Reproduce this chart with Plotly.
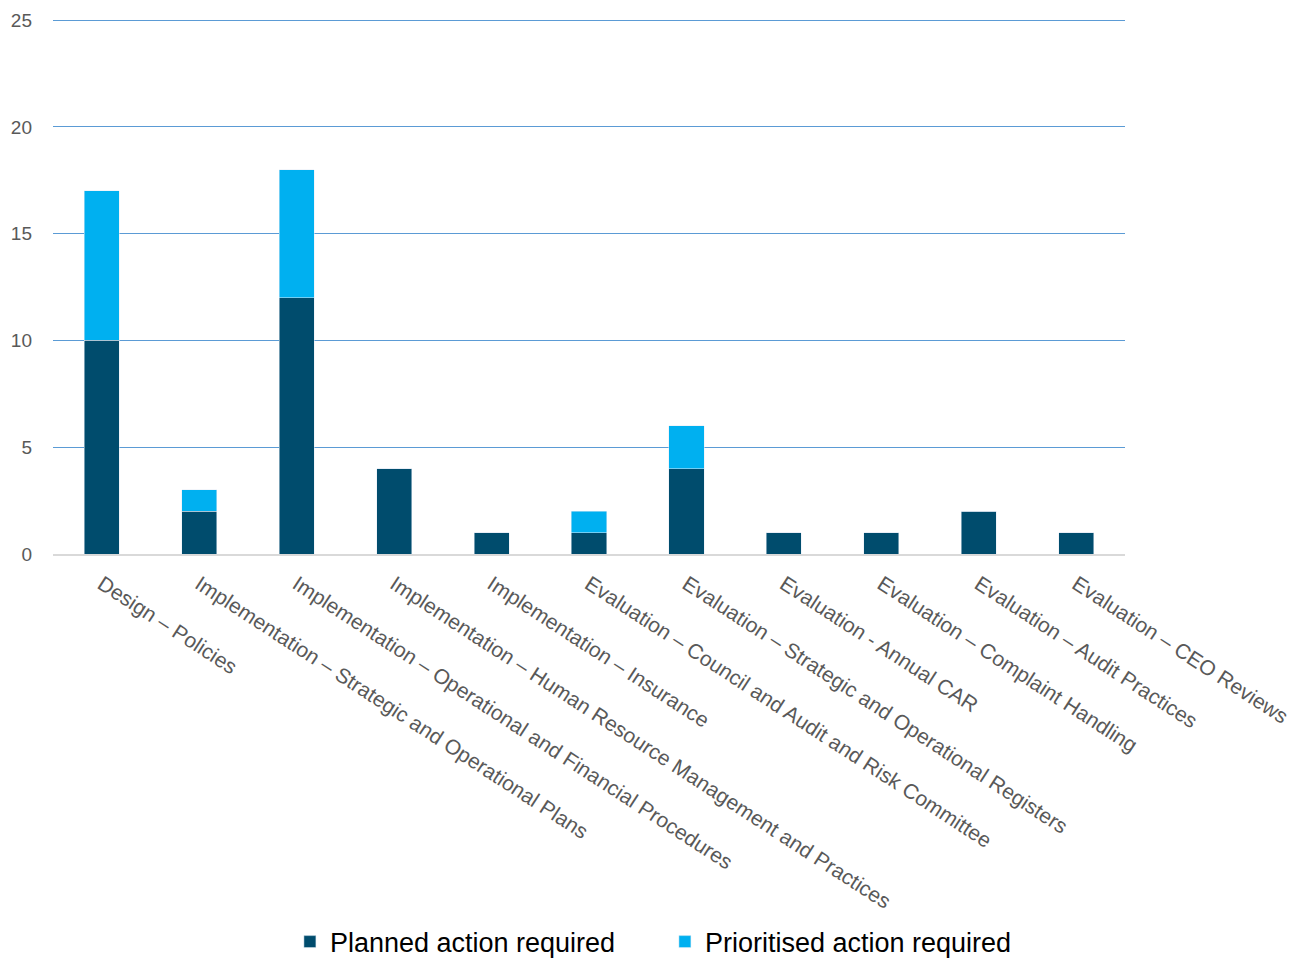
import plotly.graph_objects as go

categories = [
    "Design – Policies",
    "Implementation – Strategic and Operational Plans",
    "Implementation – Operational and Financial Procedures",
    "Implementation – Human Resource Management and Practices",
    "Implementation – Insurance",
    "Evaluation – Council and Audit and Risk Committee",
    "Evaluation – Strategic and Operational Registers",
    "Evaluation - Annual CAR",
    "Evaluation – Complaint Handling",
    "Evaluation – Audit Practices",
    "Evaluation – CEO Reviews",
]
planned = [10, 2, 12, 4, 1, 1, 4, 1, 1, 2, 1]
prioritised = [7, 1, 6, 0, 0, 1, 2, 0, 0, 0, 0]
y_ticks = [0, 5, 10, 15, 20, 25]

fig = go.Figure()
fig.add_trace(go.Bar(x=categories, y=planned, name="Planned action required",
                     marker=dict(color="#004C6D")))
fig.add_trace(go.Bar(x=categories, y=prioritised, name="Prioritised action required",
                     marker=dict(color="#00B0F0")))

fig.update_layout(
    barmode="stack",
    bargap=0.64,
    width=1295, height=950,
    margin=dict(l=45, r=178, t=10, b=404, autoexpand=False),
    plot_bgcolor="white", paper_bgcolor="white",
    font=dict(family="Liberation Sans, Arial, sans-serif", color="#595959"),
    showlegend=True,
    legend=dict(orientation="h", x=0.221, xanchor="left", y=-0.724, yanchor="middle",
                font=dict(size=27, color="#000000"), entrywidth=330, itemwidth=30,
                traceorder="normal"),
)
fig.update_xaxes(tickangle=33, tickfont=dict(size=21, color="#595959"),
                 showline=True, linecolor="#D9D9D9", linewidth=1.5, ticks="",
                 showgrid=False, automargin=False, ticklabelstandoff=8)
fig.update_yaxes(range=[0, 25.1], tickvals=y_ticks, showgrid=True, gridcolor="#5B9BD5",
                 gridwidth=1.3, zeroline=False, tickfont=dict(size=19, color="#595959"),
                 ticks="", ticklabelstandoff=20, automargin=False)
fig.write_html("out.html")
